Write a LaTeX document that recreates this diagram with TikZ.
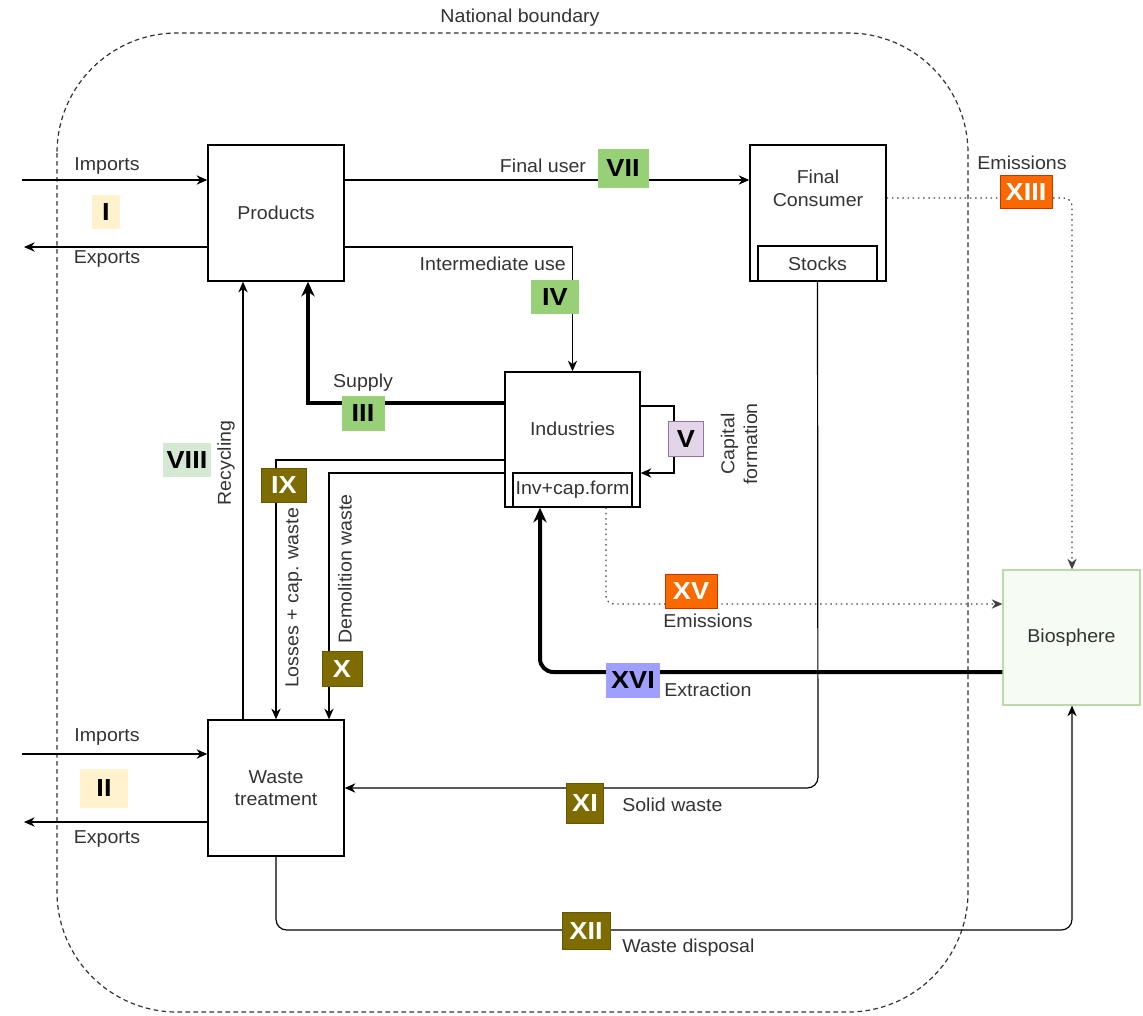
\documentclass[tikz,border=0pt]{standalone}
\usepackage{fontspec}
\setmainfont{Liberation Sans}[FakeStretch=1.05]
\newfontfamily\bdgfam{Liberation Sans}[FakeStretch=1.1]
\usetikzlibrary{arrows.meta,calc}
\definecolor{txt}{HTML}{333333}
\definecolor{cyel}{HTML}{FFF2CC}
\definecolor{cgrn}{HTML}{97D077}
\definecolor{clgrn}{HTML}{D5E8D4}
\definecolor{cpur}{HTML}{E1D5E7}
\definecolor{cpurb}{HTML}{9673A6}
\definecolor{colive}{HTML}{7E6C00}
\definecolor{corg}{HTML}{FA6800}
\definecolor{corgb}{HTML}{C73500}
\definecolor{cblue}{HTML}{9F9FFF}
\definecolor{cbiob}{HTML}{B8DBA8}
\definecolor{cbiof}{HTML}{F6FBF3}
\newcommand\lblfont{\fontsize{14}{17}\selectfont}
\newcommand\bdgfont{\bdgfam\bfseries\fontsize{18.5}{20}\selectfont}
\tikzset{
  lbl/.style={inner sep=0, font=\lblfont, text=txt, align=center},
  box/.style={draw=black, line width=1.1pt, minimum width=102pt, minimum height=102pt, inner sep=0, align=center, font=\lblfont, text=txt},
  inbox/.style={draw=black, line width=1.1pt, minimum width=89.25pt, inner sep=0, font=\lblfont, text=txt},
  conn/.style={line width=0.9pt, draw=black, -{Stealth[length=8pt,width=7pt]}},
  thickconn/.style={line width=3pt, draw=black, -{Stealth[length=11pt,width=10pt]}},
  dotconn/.style={line width=0.9pt, draw=black!75, dash pattern=on 1.1pt off 2.8pt, -{Stealth[length=8pt,width=7pt]}},
  bnd/.style={line width=0.9pt, draw=txt, dash pattern=on 3.5pt off 2.5pt, rounded corners=90pt},
  badge/.style 2 args={inner sep=0, font=\bdgfont, minimum width=#1*0.75pt, minimum height=#2*0.75pt},
}
\begin{document}
\begin{tikzpicture}[x=0.75pt,y=-0.75pt]
\useasboundingbox (0,0) rectangle (1143,1015);
% national boundary
\draw[bnd] (57,33) rectangle (968,1012);
\node[lbl] (nb) at (520,18) {National boundary};

% main boxes
\node[box] (products) at (276,213) {Products};
\node[box] (consumer) at (818,213) {};
\node[lbl] (consumerlbl) at (818,188) {Final\\Consumer};
\node[inbox, minimum height=26.25pt] (stocks) at (817.5,263.5) {Stocks};
\node[box, minimum width=101.25pt, minimum height=101.25pt] (industries) at (572.5,439.5) {};
\node[lbl] (industrieslbl) at (572.5,429) {Industries};
\node[inbox, minimum height=25.5pt] (inv) at (572.5,490) {Inv+cap.form};
\node[box] (waste) at (276,788) {Waste\\treatment};
\node[box, draw=cbiob, fill=cbiof, line width=0.9pt, minimum width=102.75pt, minimum height=101.25pt] (bio) at (1071.5,637.5) {Biosphere};

% coordinates
\coordinate (imA) at (22,180);
\coordinate (exA) at (24,247);
\coordinate (imB) at (22,754);
\coordinate (exB) at (24,822);
\coordinate (sup) at (308,403);
\coordinate (rec) at (243,0);
\coordinate (cix) at (276,460);
\coordinate (cx) at (329,473);
\coordinate (cva) at (674,406);
\coordinate (cvb) at (674,473);
\coordinate (cxv) at (606,604);
\coordinate (cxvi) at (540,672);
\coordinate (cxiii) at (1072,198);
\coordinate (cxi) at (818,788);
\coordinate (cxiia) at (276,930);
\coordinate (cxiib) at (1072,930);

% connectors
\draw[conn] (imA) -- (imA -| products.west);
\draw[conn] (exA -| products.west) -- (exA);
\draw[conn] (imB) -- (imB -| waste.west);
\draw[conn] (exB -| waste.west) -- (exB);
\draw[conn] (imA -| products.east) -- (imA -| consumer.west);
\draw[conn] (exA -| products.east) -| (industries.north);
\draw[thickconn] (sup -| industries.west) -- (sup) -- (sup |- products.south);
\draw[conn] (rec |- waste.north) -- (rec |- products.south);
\draw[conn] (cix -| industries.west) -- (cix) -- (waste.north);
\draw[conn] (cx -| industries.west) -- (cx) -- (cx |- waste.north);
\draw[conn] (cva -| industries.east) -- (cva) -- (cvb) -- (cvb -| industries.east);
\draw[dotconn, rounded corners=6pt] (cxv |- inv.south) -- (cxv) -- (cxv -| bio.west);
\draw[thickconn, rounded corners=10pt] (cxvi -| bio.west) -- (cxvi) -- (cxvi |- inv.south);
\draw[dotconn, rounded corners=6pt] (cxiii -| consumer.east) -- (cxiii) -- (cxiii |- bio.north);
\draw[conn, rounded corners=8pt] (stocks.south) -- (cxi) -- (cxi -| waste.east);
\draw[conn, rounded corners=8pt] (waste.south) -- (cxiia) -- (cxiib) -- (cxiib |- bio.south);

% labels
\node[lbl] (limA) at (107,166) {Imports};
\node[lbl] (lexA) at (107,259) {Exports};
\node[lbl] (limB) at (107,737) {Imports};
\node[lbl] (lexB) at (107,839) {Exports};
\node[lbl] (lfu) at (543,166) {Final user};
\node[lbl, anchor=east] (liu) at (566,264) {Intermediate use};
\node[lbl] (lsup) at (363,383) {Supply};
\node[lbl, rotate=90] (lcap) at (739,444) {Capital\\formation};
\node[lbl, rotate=90] (lrec) at (226,463) {Recycling};
\node[lbl, rotate=90] (lloss) at (294,598) {Losses + cap. waste};
\node[lbl, rotate=90] (ldem) at (345,569) {Demolition waste};
\node[lbl] (lem1) at (1022,163) {Emissions};
\node[lbl] (lem2) at (708,621) {Emissions};
\node[lbl, anchor=west] (lext) at (664,690) {Extraction};
\node[lbl, anchor=west] (lsw) at (622,805) {Solid waste};
\node[lbl, anchor=west] (lwd) at (622,948) {Waste disposal};

% badges
\node[badge={28}{34}, fill=cyel] (bI) at (106,212) {I};
\node[badge={48}{39}, fill=cyel] (bII) at (104,788) {II};
\node[badge={43}{35}, fill=cgrn] (bIII) at (363,413) {III};
\node[badge={48}{34}, fill=cgrn] (bIV) at (555,297) {IV};
\node[badge={35}{35}, fill=cpur, draw=cpurb, line width=0.8pt] (bV) at (686,439) {V};
\node[badge={51}{39}, fill=cgrn] (bVII) at (623,168) {VII};
\node[badge={48}{34}, fill=clgrn] (bVIII) at (187,460) {VIII};
\node[badge={45}{34}, fill=colive, text=white, draw=colive!80!black, line width=0.5pt] (bIX) at (284,485) {IX};
\node[badge={40}{35}, fill=colive, text=white, draw=colive!80!black, line width=0.5pt] (bX) at (342,669) {X};
\node[badge={37}{40}, fill=colive, text=white, draw=colive!80!black, line width=0.5pt] (bXI) at (585,803) {XI};
\node[badge={48}{37}, fill=colive, text=white, draw=colive!80!black, line width=0.5pt] (bXII) at (586,931) {XII};
\node[badge={52}{33}, fill=corg, text=white, draw=corgb, line width=0.6pt] (bXIII) at (1026,192) {XIII};
\node[badge={52}{34}, fill=corg, text=white, draw=corgb, line width=0.6pt] (bXV) at (691,591) {XV};
\node[badge={54}{35}, fill=cblue] (bXVI) at (633,680) {XVI};
\end{tikzpicture}
\end{document}
